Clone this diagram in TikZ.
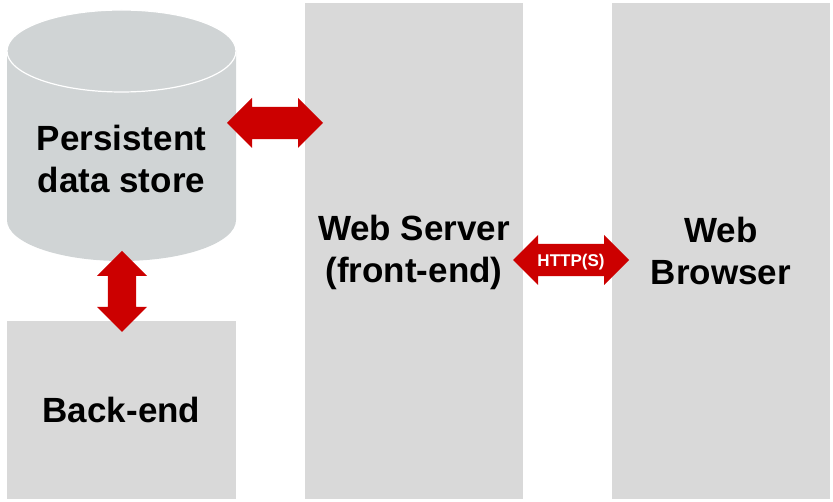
\documentclass[tikz,border=0pt]{standalone}
\usepackage{fontspec}
\setmainfont{Liberation Sans}
\usetikzlibrary{shapes.arrows}

\definecolor{panelgray}{RGB}{217,217,217}
\definecolor{storegray}{RGB}{208,212,213}
\definecolor{arrowred}{RGB}{204,0,0}

\newcommand\labelfont{\fontsize{35}{42}\selectfont\bfseries}

\tikzset{
  panel/.style={fill=panelgray, draw=none, inner sep=0pt, align=center,
    font=\labelfont, minimum width=#1},
  storetext/.style={inner sep=0pt, align=center, font=\labelfont},
  link/.style={double arrow, fill=arrowred, draw=none, inner sep=0pt,
    double arrow tip angle=90, minimum width=50pt, minimum height=#1},
}

\begin{document}
\begin{tikzpicture}[x=1pt,y=-1pt]
  \useasboundingbox (0,0) rectangle (833,502);

  % database cylinder
  \fill[storegray] (7,51) -- (7,220)
    arc[start angle=180, end angle=360, x radius=114.5pt, y radius=41pt]
    -- (236,51)
    arc[start angle=0, end angle=180, x radius=114.5pt, y radius=41pt] -- cycle;
  \draw[white, line width=1.2pt] (121.5,51) ellipse [x radius=114.5pt, y radius=41pt];
  \node[storetext] (store) at (121.5,159) {Persistent\\data store};

  % tiers
  \node[panel=229pt, minimum height=178pt] (backend) at (121.5,410) {Back-end};
  \node[panel=218pt, minimum height=496pt] (server) at (414,251) {};
  \node[storetext] (servertext) at (414,252.5) {Web Server\\(front-end)};
  \node[panel=218pt, minimum height=496pt] (browser) at (721,251) {Web\\Browser};

  % links (the content sets the shaft thickness)
  \node[link=96pt] (storelink) at (275,123) {\rule{0pt}{25pt}};
  \node[link=81pt, shape border rotate=90] (backlink) at (122,291.5) {\rule{18pt}{0pt}};
  \node[link=116pt, text=white, text height=19pt, text depth=6pt,
    font=\fontsize{17}{20}\selectfont\bfseries] (httplink) at (571,260) {HTTP(S)};
\end{tikzpicture}
\end{document}
